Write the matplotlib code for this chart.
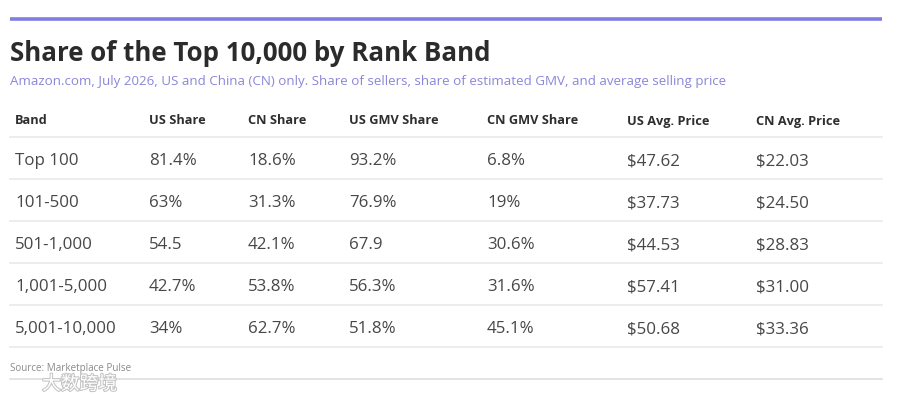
import matplotlib.pyplot as plt
import matplotlib.patheffects as pe

plt.rcParams['font.family'] = ['Open Sans', 'Noto Sans CJK SC', 'DejaVu Sans']

# table data
columns = ["Band", "US Share", "CN Share", "US GMV Share", "CN GMV Share", "US Avg. Price", "CN Avg. Price"]
bands = ["Top 100", "101-500", "501-1,000", "1,001-5,000", "5,001-10,000"]
us_share = ["81.4%", "63%", "54.5", "42.7%", "34%"]
cn_share = ["18.6%", "31.3%", "42.1%", "53.8%", "62.7%"]
us_gmv = ["93.2%", "76.9%", "67.9", "56.3%", "51.8%"]
cn_gmv = ["6.8%", "19%", "30.6%", "31.6%", "45.1%"]
us_price = ["$47.62", "$37.73", "$44.53", "$57.41", "$50.68"]
cn_price = ["$22.03", "$24.50", "$28.83", "$31.00", "$33.36"]

title = "Share of the Top 10,000 by Rank Band"
subtitle = ("Amazon.com, July 2026, US and China (CN) only. Share of sellers, "
            "share of estimated GMV, and average selling price")
source = "Source: Marketplace Pulse"

# layout (pixels)
W, H = 900, 402
col_x = [15, 149, 248, 349, 487, 627, 756]
left, right = 10, 882
first_line = 138
row_h = 42

fig = plt.figure(figsize=(W / 100, H / 100), dpi=100)
ax = fig.add_axes([0, 0, 1, 1])
ax.set_xlim(0, W)
ax.set_ylim(H, 0)
ax.axis("off")

# top accent bar
ax.plot([left, right], [20, 20], color="#7f7fe0", lw=2.6, solid_capstyle="butt")

ax.text(left, 61, title, fontsize=18.6, fontweight="bold", color="#2b2b2b", va="baseline")
ax.text(left, 85, subtitle, fontsize=9.6, color="#8b86d9", va="baseline")

for x, name in zip(col_x, columns):
    ax.text(x, 124.5, name, fontsize=9.2, fontweight="bold", color="#2e2e2e", va="baseline")

rows = list(zip(bands, us_share, cn_share, us_gmv, cn_gmv, us_price, cn_price))
ax.plot([left, right], [first_line, first_line], color="#ececec", lw=1.3)
for i, row in enumerate(rows):
    yb = first_line + row_h * i + 27.5
    for x, val in zip(col_x, row):
        ax.text(x, yb, val, fontsize=12.2, color="#474747", va="baseline")
    yl = first_line + row_h * (i + 1)
    ax.plot([left, right], [yl, yl], color="#ececec", lw=1.3)

ax.text(left, 371.5, source, fontsize=7.1, color="#8a8a8a", va="baseline")
ax.plot([left, right], [380, 380], color="#dedede", lw=1.2)

# watermark
ax.text(42, 385, "大数跨境", fontsize=13.5, color="#ffffff", va="center",
        family=['Noto Sans CJK SC'],
        path_effects=[pe.withStroke(linewidth=1.5, foreground="#c4c4c4")])

fig.savefig("out.png", dpi=100)
